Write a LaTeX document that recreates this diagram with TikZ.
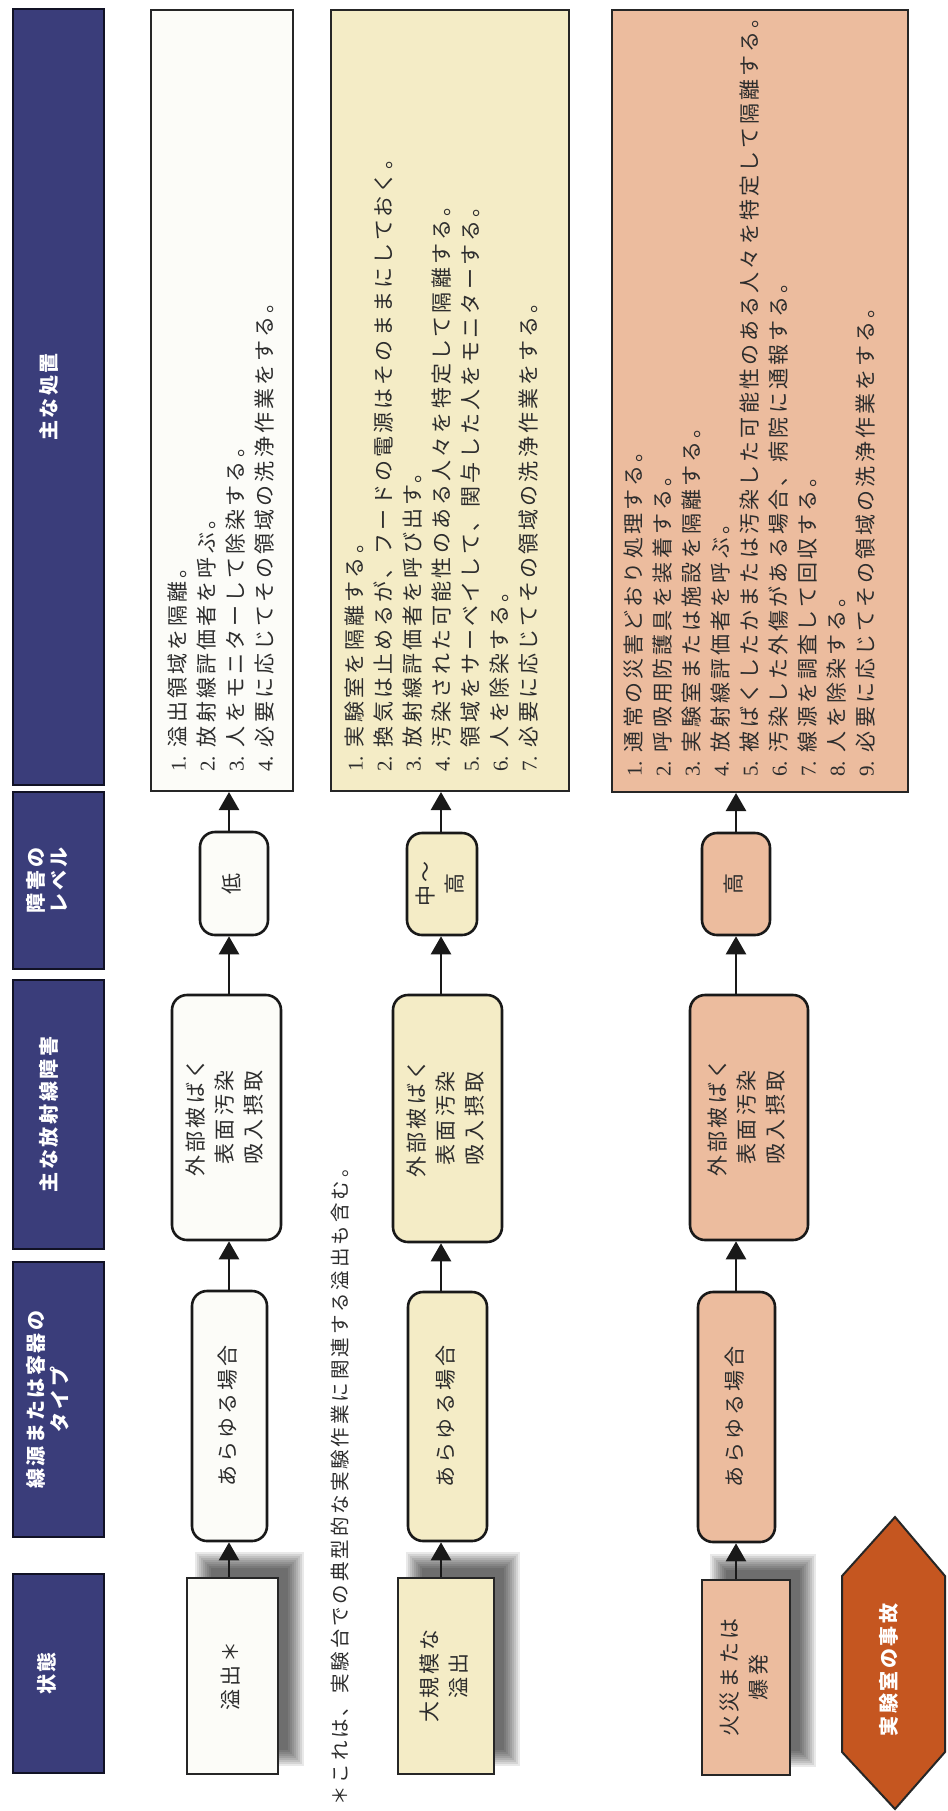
\documentclass[tikz,border=0pt]{standalone}
\usepackage{fontspec}
\setmainfont{Liberation Serif}
\newfontfamily\jp{Noto Sans CJK JP}[LetterSpace=15]
\newfontfamily\jph{Noto Sans CJK JP}[LetterSpace=13]
\usepackage{graphicx}
\usetikzlibrary{arrows.meta}
\definecolor{navy}{RGB}{58,61,122}
\definecolor{wfill}{RGB}{252,252,248}
\definecolor{yfill}{RGB}{244,236,198}
\definecolor{sfill}{RGB}{236,188,158}
\definecolor{hexc}{RGB}{197,86,32}
\definecolor{txt}{RGB}{45,45,45}
\pgfdeclarelayer{bg}\pgfdeclarelayer{shd}\pgfsetlayers{bg,shd,main}
\newcommand{\bodyf}{\jp\fontsize{21}{29}\selectfont\color{txt}}
\newcommand{\notef}{\jp\fontsize{19.5}{29}\selectfont\color{txt}}
\newcommand{\headf}{\jph\bfseries\fontsize{20}{23}\selectfont\color{white}}
\newcommand{\rt}[1]{\rotatebox{90}{#1}}
\newcommand{\ctext}[1]{\rt{\bodyf\begin{tabular}{@{}c@{}}#1\end{tabular}}}
\newcommand{\htext}[1]{\rt{\headf\begin{tabular}{@{}c@{}}#1\end{tabular}}}
\newcommand{\itm}[1]{{\rmfamily #1.}}
\newcommand{\lsttext}[1]{\rt{\bodyf\begin{tabular}{@{}r@{\hspace{9pt}}l@{}}#1\end{tabular}}}
\newcommand{\bn}[7]{\node[#1, minimum width={(#5-#3)*1pt}, minimum height={(#6-#4)*1pt}] (#2) at ({(#3+#5)/2},{(#4+#6)/2}) {#7};}
\tikzset{
  hdr/.style={fill=navy, draw=black!70!navy, line width=1.3pt, inner sep=0pt},
  lstbox/.style={draw=black!85, line width=2pt, inner sep=0pt},
  rbox/.style={draw=black!90, line width=2.6pt, rounded corners=15pt, inner sep=0pt},
  sbox/.style={draw=black!85, line width=2pt, inner sep=0pt},
  arr/.style={line width=2.5pt, draw=black!90, -{Triangle[length=18pt,width=20pt]}},
}
\begin{document}
\begin{tikzpicture}[x=1pt,y=-1pt]
\begin{pgfonlayer}{bg}\fill[white] (0,0) rectangle (947,1811);\end{pgfonlayer}
\useasboundingbox (0,0) rectangle (947,1811);

% headers
\bn{hdr}{h1}{13}{9}{104}{785}{}
\bn{hdr}{h2}{13}{792}{104}{969}{}
\bn{hdr}{h3}{13}{980}{104}{1249}{}
\bn{hdr}{h4}{13}{1262}{104}{1537}{}
\bn{hdr}{h5}{13}{1574}{104}{1773}{}
\node[inner sep=0] (h1t) at ([xshift=-7pt]h1.center) {\htext{主な処置}};
\node[inner sep=0] (h2t) at ([xshift=-9pt]h2.center) {\htext{障害の\\レベル}};
\node[inner sep=0] (h3t) at ([xshift=-7pt]h3.center) {\htext{主な放射線障害}};
\node[inner sep=0] (h4t) at ([xshift=-8pt]h4.center) {\htext{線源または容器の\\タイプ}};
\node[inner sep=0] (h5t) at ([xshift=-9pt]h5.center) {\htext{状態}};

% row 1
\bn{lstbox,fill=wfill}{L1}{151}{10}{293}{791}{}
\node[anchor=south west,inner sep=0] (L1t) at ([xshift=15pt,yshift=20pt]L1.south west) {\lsttext{\itm{1}&溢出領域を隔離。\\ \itm{2}&放射線評価者を呼ぶ。\\ \itm{3}&人をモニターして除染する。\\ \itm{4}&必要に応じてその領域の洗浄作業をする。}};
\bn{rbox,fill=wfill}{Lv1}{200}{832}{268}{935}{\ctext{低}}
\bn{rbox,fill=wfill}{R1}{172}{995}{281}{1240}{\ctext{外部被ばく\\表面汚染\\吸入摂取}}
\bn{rbox,fill=wfill}{A1}{192}{1291}{267}{1541}{\ctext{あらゆる場合}}
\bn{sbox,fill=wfill}{S1}{187}{1578}{278}{1774}{\ctext{溢出＊}}

% row 2
\bn{lstbox,fill=yfill}{L2}{331}{10}{569}{791}{}
\node[anchor=south west,inner sep=0] (L2t) at ([xshift=12pt,yshift=20pt]L2.south west) {\lsttext{\itm{1}&実験室を隔離する。\\ \itm{2}&換気は止めるが、フードの電源はそのままにしておく。\\ \itm{3}&放射線評価者を呼び出す。\\ \itm{4}&汚染された可能性のある人々を特定して隔離する。\\ \itm{5}&領域をサーベイして、関与した人をモニターする。\\ \itm{6}&人を除染する。\\ \itm{7}&必要に応じてその領域の洗浄作業をする。}};
\bn{rbox,fill=yfill}{Lv2}{407}{833}{477}{935}{\ctext{中〜\\高}}
\bn{rbox,fill=yfill}{R2}{393}{995}{502}{1242}{\ctext{外部被ばく\\表面汚染\\吸入摂取}}
\bn{rbox,fill=yfill}{A2}{408}{1292}{487}{1541}{\ctext{あらゆる場合}}
\bn{sbox,fill=yfill}{S2}{398}{1578}{494}{1774}{\ctext{大規模な\\溢出}}

% row 3
\bn{lstbox,fill=sfill}{L3}{612}{10}{908}{792}{}
\node[anchor=south west,inner sep=0] (L3t) at ([xshift=10pt,yshift=16pt]L3.south west) {\lsttext{\itm{1}&通常の災害どおり処理する。\\ \itm{2}&呼吸用防護具を装着する。\\ \itm{3}&実験室または施設を隔離する。\\ \itm{4}&放射線評価者を呼ぶ。\\ \itm{5}&被ばくしたかまたは汚染した可能性のある人々を特定して隔離する。\\ \itm{6}&汚染した外傷がある場合、病院に通報する。\\ \itm{7}&線源を調査して回収する。\\ \itm{8}&人を除染する。\\ \itm{9}&必要に応じてその領域の洗浄作業をする。}};
\bn{rbox,fill=sfill}{Lv3}{702}{833}{770}{935}{\ctext{高}}
\bn{rbox,fill=sfill}{R3}{690}{995}{808}{1240}{\ctext{外部被ばく\\表面汚染\\吸入摂取}}
\bn{rbox,fill=sfill}{A3}{698}{1292}{775}{1542}{\ctext{あらゆる場合}}
\bn{sbox,fill=sfill}{S3}{702}{1580}{790}{1775}{\ctext{火災または\\爆発}}

% shadows
\begin{pgfonlayer}{shd}
\foreach \nm in {S1,S2,S3}{
  \foreach \s [evaluate=\s as \a using 17-\s, evaluate=\s as \b using 17+\s] in {8,6,4,2,0,-2,-4,-6,-8}
    \fill[black,opacity=0.085] ([xshift=\a pt,yshift=\a pt]\nm.south west) rectangle ([xshift=\b pt,yshift=\b pt]\nm.north east);
}
\end{pgfonlayer}

% arrows
\coordinate (c1) at (229,0);
\coordinate (c2) at (441,0);
\coordinate (c3) at (736,0);
\foreach \r in {1,2,3}{
  \draw[arr] (S\r.north -| c\r) -- (A\r.south -| c\r);
  \draw[arr] (A\r.north -| c\r) -- (R\r.south -| c\r);
  \draw[arr] (R\r.north -| c\r) -- (Lv\r.south -| c\r);
  \draw[arr] (Lv\r.north -| c\r) -- (L\r.south -| c\r);
}

% footnote
\node[anchor=south,inner sep=0] (fn) at (340,1806) {\rt{\notef ＊これは、実験台での典型的な実験作業に関連する溢出も含む。}};

% accident hexagon
\draw[fill=hexc, draw=black!85, line width=2pt] (895,1517) -- (842,1576) -- (842,1752) -- (895,1809) -- (945,1752) -- (945,1576) -- cycle;
\node[inner sep=0] (acc) at (889,1670) {\rt{\jph\bfseries\fontsize{20}{24}\selectfont\color{white}実験室の事故}};
\end{tikzpicture}
\end{document}
